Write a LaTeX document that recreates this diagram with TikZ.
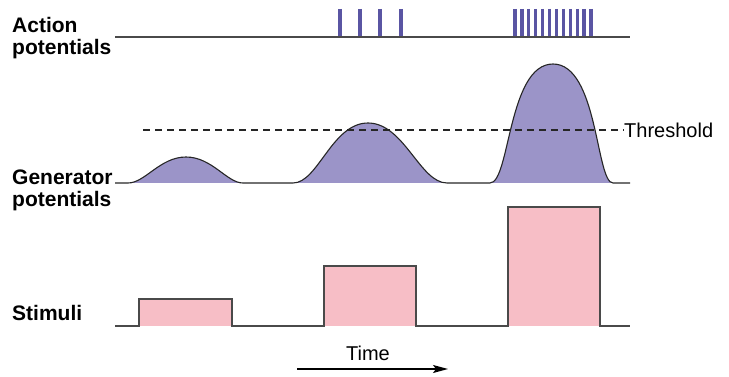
\documentclass[tikz,border=0pt]{standalone}
\usepackage{fontspec}
\setmainfont{Liberation Sans}
\usetikzlibrary{arrows.meta}
\definecolor{spikeblue}{HTML}{5A55A3}
\definecolor{bumpfill}{HTML}{9B94C8}
\definecolor{stimfill}{HTML}{F7BEC6}
\definecolor{axisgray}{HTML}{4A4A4A}
\begin{document}
\begin{tikzpicture}[
  x=1pt,y=-1pt,
  trace/.style={draw=axisgray,line width=1.3pt},
  spike/.style={draw=spikeblue,line width=3.2pt},
  bump/.style={fill=bumpfill,draw=black!85,line width=1.1pt},
  stim/.style={fill=stimfill,draw=axisgray,line width=1.3pt},
  lbl/.style={font=\fontsize{21}{22}\selectfont\bfseries,align=left,anchor=north west,inner sep=0pt},
  every node/.append style={font=\fontsize{20}{21}\selectfont}
]
  \useasboundingbox (0,0) rectangle (729,377);

  \node[lbl] (aplabel) at (12,17) {Action\\potentials};
  \node[lbl] (gplabel) at (12,170) {Generator\\potentials};
  \node[lbl,anchor=base west] (stlabel) at (12,320) {Stimuli};

  \foreach \sx in {340,360,380,401}
    \draw[spike] (\sx,9) -- (\sx,36);
  \foreach \k in {0,...,11}
    \draw[spike] (515+6.9*\k,9) -- (515+6.9*\k,36);
  \draw[trace] (115,37) -- (630,37);

  \fill[bumpfill] (128,183) .. controls (145,183) and (160,157) .. (186,157)
    .. controls (212,157) and (227,183) .. (243,183) -- cycle;
  \fill[bumpfill] (293,183) .. controls (318,183) and (332,123) .. (368,123)
    .. controls (404,123) and (420,183) .. (447,183) -- cycle;
  \fill[bumpfill] (490,183) .. controls (510,183) and (508,64) .. (553,64)
    .. controls (598,64) and (596,183) .. (613,183) -- cycle;
  \draw[draw=black!85,line width=1.1pt] (115,183) -- (128,183)
    .. controls (145,183) and (160,157) .. (186,157)
    .. controls (212,157) and (227,183) .. (243,183) -- (293,183)
    .. controls (318,183) and (332,123) .. (368,123)
    .. controls (404,123) and (420,183) .. (447,183) -- (490,183)
    .. controls (510,183) and (508,64) .. (553,64)
    .. controls (598,64) and (596,183) .. (613,183) -- (630,183);

  \coordinate (thstart) at (143,130);
  \node[anchor=west,inner sep=0pt] (thlabel) at (624,130) {Threshold};
  \draw[black!85,line width=1.5pt,dash pattern=on 7pt off 5pt] (thstart) -- (thlabel.west);

  \fill[stimfill] (139,299) rectangle (232,326);
  \fill[stimfill] (324,266) rectangle (416,326);
  \fill[stimfill] (508,207) rectangle (600,326);
  \draw[trace] (115,326) -- (139,326) -- (139,299) -- (232,299) -- (232,326)
    -- (324,326) -- (324,266) -- (416,266) -- (416,326)
    -- (508,326) -- (508,207) -- (600,207) -- (600,326) -- (630,326);

  \node[anchor=base,inner sep=0pt] (timelabel) at (368,360) {Time};
  \coordinate (tstart) at (297,369);
  \coordinate (tend) at (448,369);
  \draw[line width=1.2pt,-{Stealth[length=15pt,width=8pt,inset=3pt]}] (tstart) -- (tend);
\end{tikzpicture}
\end{document}
